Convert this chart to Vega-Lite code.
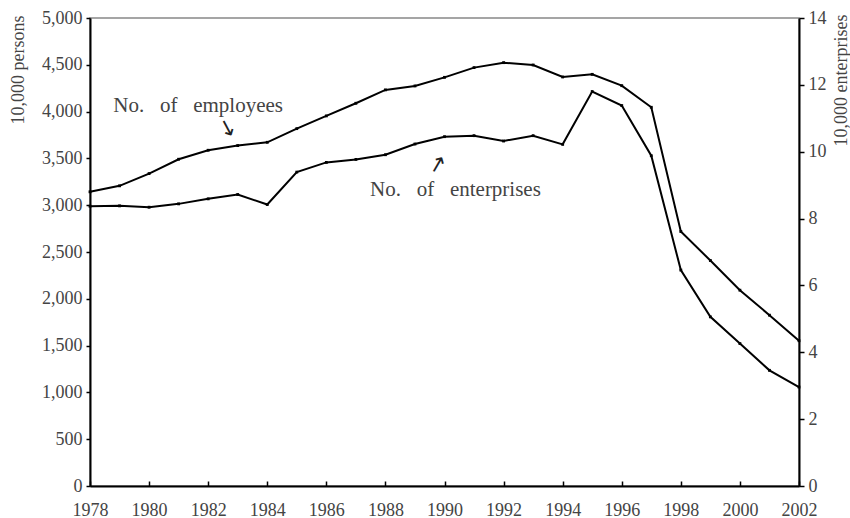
{
  "$schema": "https://vega.github.io/schema/vega-lite/v6.json",
  "width": 709,
  "height": 468,
  "autosize": {"type": "none"},
  "padding": {"left": 90, "top": 18, "right": 51, "bottom": 32},
  "background": "white",
  "config": {
    "view": {"stroke": "#888888", "strokeWidth": 1.5},
    "font": "Liberation Serif",
    "axis": {
      "grid": false,
      "domainColor": "#000000",
      "domainWidth": 2,
      "tickColor": "#000000",
      "tickWidth": 1.5
    }
  },
  "datasets": {
    "series": [
      {"year": 1978, "employees": 3143, "enterprises": 8.37},
      {"year": 1979, "employees": 3207, "enterprises": 8.38},
      {"year": 1980, "employees": 3338, "enterprises": 8.34},
      {"year": 1981, "employees": 3491, "enterprises": 8.44},
      {"year": 1982, "employees": 3587, "enterprises": 8.59},
      {"year": 1983, "employees": 3637, "enterprises": 8.72},
      {"year": 1984, "employees": 3672, "enterprises": 8.42},
      {"year": 1985, "employees": 3818, "enterprises": 9.39},
      {"year": 1986, "employees": 3954, "enterprises": 9.68},
      {"year": 1987, "employees": 4089, "enterprises": 9.77},
      {"year": 1988, "employees": 4232, "enterprises": 9.91},
      {"year": 1989, "employees": 4274, "enterprises": 10.23},
      {"year": 1990, "employees": 4366, "enterprises": 10.45},
      {"year": 1991, "employees": 4470, "enterprises": 10.48},
      {"year": 1992, "employees": 4523, "enterprises": 10.32},
      {"year": 1993, "employees": 4498, "enterprises": 10.48},
      {"year": 1994, "employees": 4370, "enterprises": 10.22},
      {"year": 1995, "employees": 4398, "enterprises": 11.80},
      {"year": 1996, "employees": 4277, "enterprises": 11.38},
      {"year": 1997, "employees": 4046, "enterprises": 9.88},
      {"year": 1998, "employees": 2719, "enterprises": 6.46},
      {"year": 1999, "employees": 2409, "enterprises": 5.06},
      {"year": 2000, "employees": 2092, "enterprises": 4.26},
      {"year": 2001, "employees": 1825, "enterprises": 3.46},
      {"year": 2002, "employees": 1552, "enterprises": 2.96}
    ],
    "empNotes": [
      {"year": 1981.66, "value": 4056, "label": "No.\u00a0\u00a0\u00a0of\u00a0\u00a0\u00a0employees", "kind": "text"},
      {"year": 1982.67, "value": 3813, "label": "\u2193", "kind": "arrow"}
    ],
    "entNotes": [
      {"year": 1990.37, "value": 8.85, "label": "No.\u00a0\u00a0\u00a0of\u00a0\u00a0\u00a0enterprises", "kind": "text"},
      {"year": 1989.75, "value": 9.59, "label": "\u2191", "kind": "arrow"}
    ]
  },
  "layer": [
    {
      "layer": [
        {
          "data": {"name": "series"},
          "mark": {"type": "line", "color": "#000000", "strokeWidth": 2, "point": {"filled": true, "shape": "square", "size": 8, "color": "#000000"}},
          "encoding": {
            "x": {
              "field": "year", "type": "quantitative",
              "scale": {"domain": [1978, 2002], "nice": false, "zero": false},
              "axis": {
                "title": null,
                "values": [1978,1979,1980,1981,1982,1983,1984,1985,1986,1987,1988,1989,1990,1991,1992,1993,1994,1995,1996,1997,1998,1999,2000,2001,2002],
                "labelExpr": "datum.value % 2 == 0 ? format(datum.value, 'd') : ''",
                "labelOverlap": false,
                "labelFlush": false,
                "tickSize": -5,
                "labelPadding": 20,
                "labelFont": "Liberation Serif",
                "labelFontSize": 18,
                "labelColor": "#444444"
              }
            },
            "y": {
              "field": "employees", "type": "quantitative",
              "scale": {"domain": [0, 5000], "nice": false},
              "axis": {
                "title": "10,000 persons",
                "values": [0,500,1000,1500,2000,2500,3000,3500,4000,4500,5000],
                "format": ",d",
                "tickSize": 4,
                "labelPadding": 4,
                "labelFont": "Liberation Serif",
                "labelFontSize": 18,
                "labelColor": "#444444",
                "titleFont": "Liberation Serif",
                "titleFontSize": 18,
                "titleFontWeight": "normal",
                "titleColor": "#444444",
                "titleAngle": 270,
                "titleAlign": "right",
                "titleBaseline": "middle",
                "titleX": -72,
                "titleY": -3
              }
            }
          }
        },
        {
          "data": {"name": "empNotes"},
          "transform": [{"filter": "datum.kind == 'text'"}],
          "mark": {"type": "text", "font": "Liberation Serif", "fontSize": 21, "color": "#444444", "align": "center", "baseline": "middle"},
          "encoding": {
            "x": {"field": "year", "type": "quantitative"},
            "y": {"field": "value", "type": "quantitative"},
            "text": {"field": "label"}
          }
        },
        {
          "data": {"name": "empNotes"},
          "transform": [{"filter": "datum.kind == 'arrow'"}],
          "mark": {"type": "text", "font": "DejaVu Sans", "fontSize": 22, "color": "#222222", "align": "center", "baseline": "middle", "angle": -28},
          "encoding": {
            "x": {"field": "year", "type": "quantitative"},
            "y": {"field": "value", "type": "quantitative"},
            "text": {"field": "label"}
          }
        }
      ]
    },
    {
      "layer": [
        {
          "data": {"name": "series"},
          "mark": {"type": "line", "color": "#000000", "strokeWidth": 2, "point": {"filled": true, "shape": "square", "size": 8, "color": "#000000"}},
          "encoding": {
            "x": {"field": "year", "type": "quantitative"},
            "y": {
              "field": "enterprises", "type": "quantitative",
              "scale": {"domain": [0, 14], "nice": false},
              "axis": {
                "orient": "right",
                "title": "10,000 enterprises",
                "values": [0,2,4,6,8,10,12,14],
                "tickSize": 5,
                "labelPadding": 4,
                "labelFont": "Liberation Serif",
                "labelFontSize": 18,
                "labelColor": "#444444",
                "titleFont": "Liberation Serif",
                "titleFontSize": 18,
                "titleFontWeight": "normal",
                "titleColor": "#444444",
                "titleAngle": 270,
                "titleAlign": "right",
                "titleBaseline": "middle",
                "titleX": 42,
                "titleY": -4
              }
            }
          }
        },
        {
          "data": {"name": "entNotes"},
          "transform": [{"filter": "datum.kind == 'text'"}],
          "mark": {"type": "text", "font": "Liberation Serif", "fontSize": 21, "color": "#444444", "align": "center", "baseline": "middle"},
          "encoding": {
            "x": {"field": "year", "type": "quantitative"},
            "y": {"field": "value", "type": "quantitative"},
            "text": {"field": "label"}
          }
        },
        {
          "data": {"name": "entNotes"},
          "transform": [{"filter": "datum.kind == 'arrow'"}],
          "mark": {"type": "text", "font": "DejaVu Sans", "fontSize": 22, "color": "#222222", "align": "center", "baseline": "middle", "angle": 30},
          "encoding": {
            "x": {"field": "year", "type": "quantitative"},
            "y": {"field": "value", "type": "quantitative"},
            "text": {"field": "label"}
          }
        }
      ]
    }
  ],
  "resolve": {"scale": {"y": "independent"}}
}
